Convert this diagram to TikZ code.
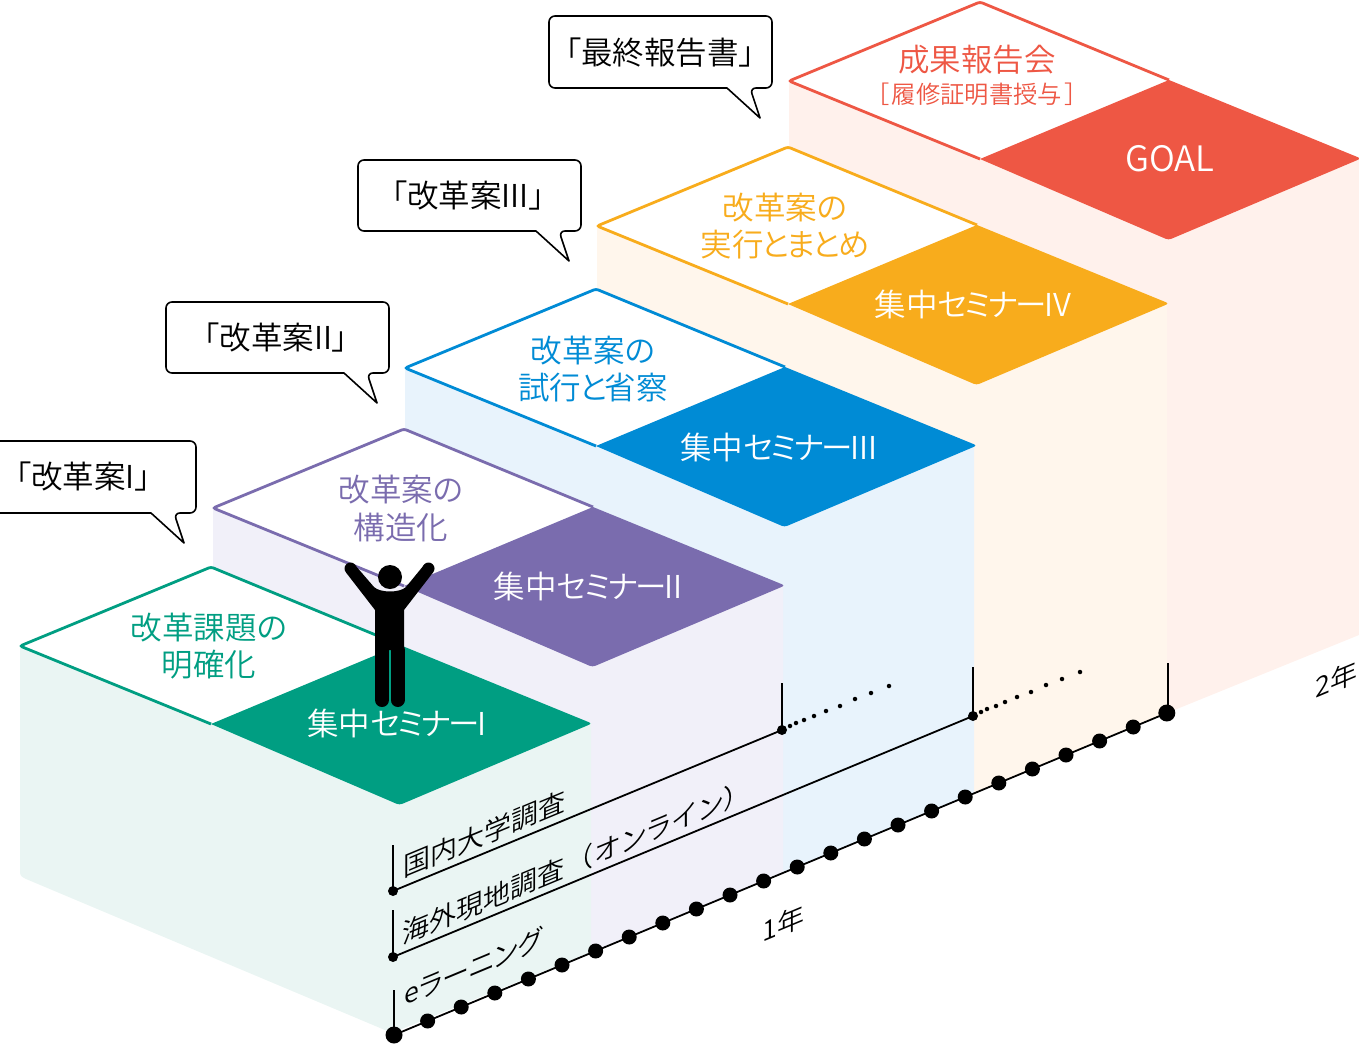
\documentclass[tikz,border=0pt]{standalone}
\usepackage{fontspec}
\setmainfont[UprightFont=* DemiLight,RawFeature=+palt]{Noto Sans CJK JP}
\definecolor{cA}{HTML}{009E82}\definecolor{sA}{HTML}{EAF5F3}
\definecolor{cB}{HTML}{7A6CAE}\definecolor{sB}{HTML}{F1F0F9}
\definecolor{cC}{HTML}{008BD5}\definecolor{sC}{HTML}{E8F3FC}
\definecolor{cD}{HTML}{F8AC1C}\definecolor{sD}{HTML}{FFF6EC}
\definecolor{cE}{HTML}{EE5744}\definecolor{sE}{HTML}{FFF1EC}
\newcommand\stagetop[3]{%
  \begin{scope}[shift={(#1,#2)}]
    \fill[white] (0,0) -- (191,-79) -- (380,-1) -- (191,78) -- cycle;
    \fill[#3] (191,78) -- (380,-1) [rounded corners=3pt] -- (572,77.5) -- (379.5,159) [sharp corners] -- cycle;
    \draw[#3,line width=2.8pt,rounded corners=2.5pt] (191,78) -- (0,0) -- (191,-79) -- (380,-1);
  \end{scope}}
\newcommand\skewlabel[5]{%
  \begin{scope}[cm={1,0.4166,0,1,(#2,#3)}]
    \node[skewtxt,font=\fontsize{#4}{#4}\selectfont] (#1) at (0,0) {#5};
  \end{scope}}
\newcommand\seminame{集中セ\kern-2.5pt ミ\kern-2.5pt ナ\kern-2.5pt ー\kern-2.5pt\relax}
\tikzset{
  ttl/.style={inner sep=0pt,font=\fontsize{31.5}{31.5}\selectfont},
  bubble/.style={draw=black,fill=white,line width=1.6pt,line join=round},
  skewtxt/.style={transform shape,anchor=base west,inner sep=0pt,text=black},
  bigdot/.style={circle,fill=black,inner sep=0pt,minimum size=15pt},
  enddot/.style={circle,fill=black,inner sep=0pt,minimum size=17pt},
  smalldot/.style={circle,fill=black,inner sep=0pt,minimum size=10pt},
  tinydot/.style={circle,fill=black,inner sep=0pt,minimum size=4.5pt},
  tl/.style={draw=black,line width=1.8pt},
}
\begin{document}
\begin{tikzpicture}[x=1pt,y=-1pt]
\clip (0,0) rectangle (1359,1044);
% side faces
\fill[sE] (789,81) -- (789,500) -- (1167,713) -- (1359,635) -- (1359,158) -- cycle;
\fill[sD] (597,226) -- (597,700) -- (974,794) -- (1167,713) -- (1167,304) -- cycle;
\fill[sC] (405,368) -- (405,800) -- (783,873) -- (974,794) -- (974,446) -- cycle;
\fill[sB] (213,508) -- (213,800) -- (591,952) -- (783,873) -- (783,586) -- cycle;
\fill[sA] (20,646) -- (20,872) .. controls (20,876) and (22,877) .. (26,879) -- (392,1033) -- (591,952) -- (591,723) -- cycle;
% tops
\stagetop{789}{81}{cE}
\stagetop{597}{226}{cD}
\stagetop{405}{368}{cC}
\stagetop{213}{508}{cB}
\stagetop{20}{646}{cA}
% person
\fill[black] (390,577) circle (12);
\fill[black] (350.5,568.5) circle (6);
\fill[black] (428.5,568.5) circle (6);
\fill[black] (346,572.5) -- (375,610) -- (375,650) -- (404,650) -- (404,610) -- (433,572.5) -- (424,565) -- (406,587) .. controls (400,593) and (380,593) .. (374,587) -- (355,565) -- cycle;
\draw[black,line width=14pt,line cap=round] (382,640) -- (382,700);
\draw[black,line width=14pt,line cap=round] (397.5,650) -- (397.5,700);
% stage titles
\node[ttl,text=cA] (a1) at (209,628) {改革課題の};
\node[ttl,text=cA] (a2) at (209,665) {明確化};
\node[ttl,text=white] (a3) at (397,723) {\seminame I};
\node[ttl,text=cB] (b1) at (401,490) {改革案の};
\node[ttl,text=cB] (b2) at (401,527) {構造化};
\node[ttl,text=white] (b3) at (588,586) {\seminame II};
\node[ttl,text=cC] (c1) at (593,351) {改革案の};
\node[ttl,text=cC] (c2) at (593,388) {試行\kern-2pt と\kern-2pt 省察};
\node[ttl,text=white] (c3) at (779,447) {\seminame III};
\node[ttl,text=cD] (d1) at (785,208) {改革案の};
\node[ttl,text=cD] (d2) at (785,245) {実行\kern-2.5pt と\kern-2.5pt ま\kern-2.5pt と\kern-2.5pt め};
\node[ttl,text=white] (d3) at (973,304) {\seminame IV};
\node[ttl,text=cE] (e1) at (977,60) {成果報告会};
\node[ttl,text=cE,font=\fontsize{24.3}{24.3}\selectfont] (e2) at (977,94) {［\kern3pt 履修証明書授与\kern3pt ］};
\node[ttl,text=white,font=\fontsize{35}{35}\selectfont] (e3) at (1170,159) {GOAL};
% speech bubbles
\draw[bubble,rounded corners=6pt] (-6,441) -- (196,441) -- (196,513) -- (174,513) [sharp corners] -- (184,543) -- (151,513) [rounded corners=6pt] -- (-6,513) -- cycle;
\draw[bubble,rounded corners=6pt] (166,302) -- (389,302) -- (389,373) -- (367,373) [sharp corners] -- (377,403) -- (344,373) [rounded corners=6pt] -- (166,373) -- cycle;
\draw[bubble,rounded corners=6pt] (358,160) -- (581,160) -- (581,231) -- (559,231) [sharp corners] -- (569,261) -- (536,231) [rounded corners=6pt] -- (358,231) -- cycle;
\draw[bubble,rounded corners=6pt] (549,16) -- (772,16) -- (772,88) -- (750,88) [sharp corners] -- (760,118) -- (727,88) [rounded corners=6pt] -- (549,88) -- cycle;
\node[ttl] (q1) at (83,477) {「改革案I」};
\node[ttl] (q2) at (276,338) {「改革案II」};
\node[ttl] (q3) at (468,196) {「改革案III」};
\node[ttl] (q4) at (660,53) {「最終報告書」};
% timelines
\foreach \i in {0,...,23} {
  \node[bigdot] (t\i) at ({394+\i*33.6},{1035-\i*14}) {};
}
\node[enddot] (ts) at (t0.center) {};
\node[enddot] (te) at (t23.center) {};
\draw[tl] (ts.center) -- (te.center);
\coordinate (k0) at (394,990);
\draw[tl] (ts.center) -- (k0);
\coordinate (k23) at (1168,663);
\draw[tl] (te.center) -- (k23 |- te.center) -- (k23);
\node[smalldot] (u0) at (393,957) {};
\node[smalldot] (u1) at (973,716) {};
\coordinate (ku0) at (393,910);
\coordinate (ku1) at (973,667);
\draw[tl] (ku0) -- (u0.center) -- (u1.center) -- (ku1);
\node[smalldot] (v0) at (393,891) {};
\node[smalldot] (v1) at (782,730) {};
\coordinate (kv0) at (393,845);
\coordinate (kv1) at (782,683);
\draw[tl] (kv0) -- (v0.center) -- (v1.center) -- (kv1);
\foreach \x/\y [count=\n] in {790/726,796/723,804/720,814/716,826/711,840/706,855/699,871/693,889/686} {
  \node[tinydot] (vd\n) at (\x,\y) {};
}
\foreach \x/\y [count=\n] in {981/712,987/709,996/706,1005/702,1017/697,1031/692,1046/685,1062/679,1080/672} {
  \node[tinydot] (ud\n) at (\x,\y) {};
}
% slanted labels
\skewlabel{l1}{403}{878}{27}{国内大学調査}
\skewlabel{l2}{402}{945}{27}{海外現地調査\kern15pt （\kern2pt オ\kern2pt ン\kern2pt ラ\kern2pt イ\kern2pt ン\kern2pt ）}
\skewlabel{l3}{404}{1006}{27}{eラーニング}
\skewlabel{y1}{762}{943}{27}{1年}
\skewlabel{y2}{1315}{699}{27}{2年}
\end{tikzpicture}
\end{document}
